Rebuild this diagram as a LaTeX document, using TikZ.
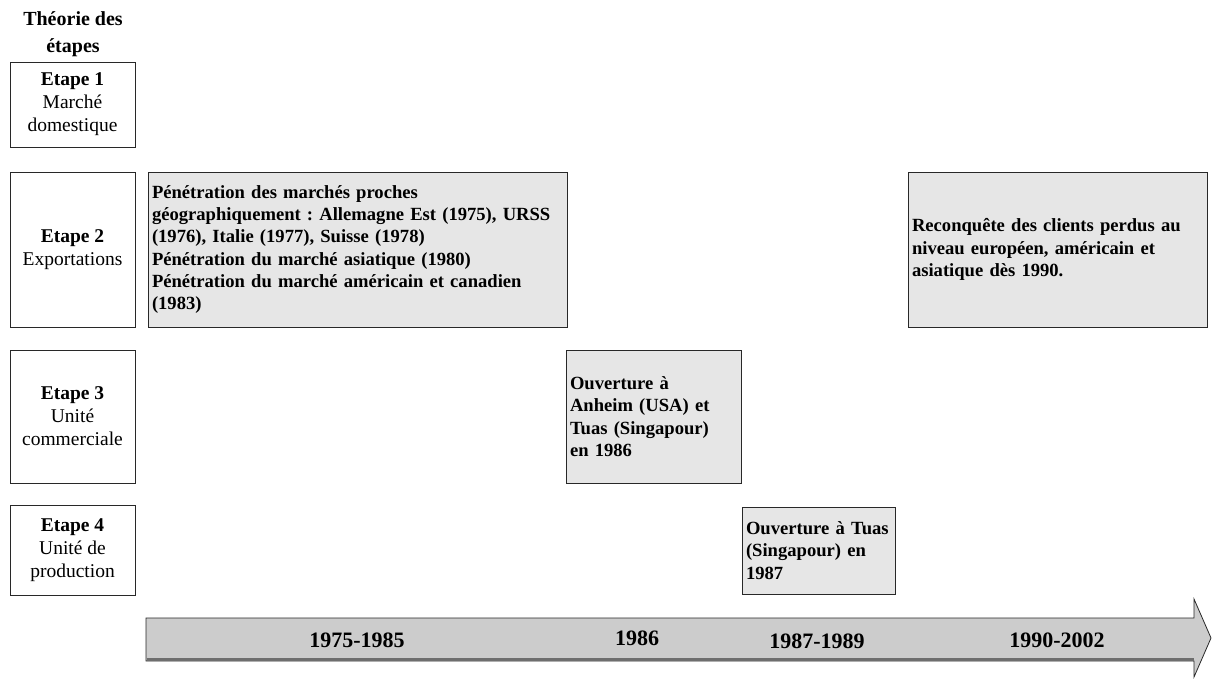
\documentclass[tikz,border=0pt]{standalone}
\usepackage{fontspec}
\setmainfont{Liberation Serif}
\usetikzlibrary{positioning}
\definecolor{eventFill}{RGB}{230,230,230}
\definecolor{arrowFill}{RGB}{204,204,204}
\definecolor{lineBase}{RGB}{ 40, 40, 40}
\definecolor{shadeBase}{RGB}{110,110,110}
\tikzset{
    stagebox/.style={
        draw=lineBase, fill=white, line width=0.8pt,
        inner sep=0pt, align=center, minimum width=125pt,
        font=\fontsize{19.5}{23}\selectfont
    },
    eventbox/.style={
        draw=lineBase, fill=eventFill, line width=0.8pt,
        inner xsep=4pt, inner ysep=0pt, align=left,
        font=\frenchspacing\bfseries\fontsize{18.6}{22.3}\selectfont
    },
    titlenode/.style={align=center, font=\bfseries\fontsize{20}{27}\selectfont},
    period/.style={font=\bfseries\fontsize{22}{24}\selectfont},
    timeline/.style={draw=lineBase, fill=arrowFill, line width=0.8pt}
}
\begin{document}
\begin{tikzpicture}[x=1pt, y=-1pt]
      \useasboundingbox (0,0) rectangle (1212,680);
      \node[titlenode] (T) at (73,34) {Théorie des\\étapes};
      \node[stagebox, minimum height=85pt]  (S1) at (72.5,104.5) {\textbf{Etape 1}\\Marché\\domestique};
      \node[stagebox, minimum height=155pt] (S2) at (72.5,249.5) {\textbf{Etape 2}\\Exportations};
      \node[stagebox, minimum height=133pt] (S3) at (72.5,416.5) {\textbf{Etape 3}\\Unité\\commerciale};
      \node[stagebox, minimum height=90pt]  (S4) at (72.5,550) {\textbf{Etape 4}\\Unité de\\production};
      \node[eventbox, text width=411pt, minimum height=155pt] (E1) at (357.5,249.5)
        {Pénétration des marchés proches\\\mbox{géographiquement : Allemagne Est (1975), URSS}\\(1976), Italie (1977), Suisse (1978)\\Pénétration du marché asiatique (1980)\\Pénétration du marché américain et canadien\\(1983)\\[-13pt]};
      \node[eventbox, text width=167pt, minimum height=133pt] (E2) at (653.5,416.5)
        {Ouverture à\\Anheim (USA) et\\\mbox{Tuas (Singapour)}\\en 1986};
      \node[eventbox, text width=145pt, minimum height=87pt] (E3) at (818.5,550.5)
        {\mbox{Ouverture à Tuas}\\(Singapour) en\\1987};
      \node[eventbox, text width=291pt, minimum height=155pt] (E4) at (1057.5,249.5)
        {Reconquête des clients perdus au\\niveau européen, américain et\\asiatique dès 1990.};
      \draw[timeline] (146,618) -- (1194,618) -- (1194,599) -- (1211,638)
        -- (1194,677) -- (1194,661) -- (146,661) -- cycle;
      \draw[shadeBase, line width=2.5pt] (146.5,659.6) -- (1193.5,659.6);
      \node[period] (P1) at (357,640) {1975-1985};
      \node[period] (P2) at (637,638) {1986};
      \node[period] (P3) at (817,641) {1987-1989};
      \node[period] (P4) at (1057,640) {1990-2002};
\end{tikzpicture}
\end{document}
